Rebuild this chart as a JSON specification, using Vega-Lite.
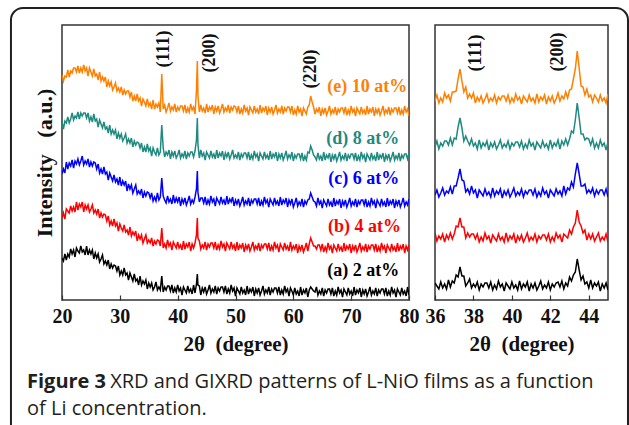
{
  "$schema": "https://vega.github.io/schema/vega-lite/v6.json",
  "background": "white",
  "padding": {"left": 9, "top": 6, "right": 0, "bottom": 0},
  "config": {
    "view": {"stroke": "#333333", "strokeWidth": 1.5},
    "axis": {"grid": false, "domain": false, "labelFont": "Liberation Serif", "labelFontWeight": "bold", "labelFontSize": 20, "labelColor": "#111", "titleFont": "Liberation Serif", "titleFontWeight": "bold", "titleFontSize": 21, "titleColor": "#111", "tickColor": "#333", "tickWidth": 1.2}
  },
  "datasets": {
    "xrd": [
      {"x":20,"a":42,"b":82,"c":126,"d":178,"e":225},{"x":20.25,"a":39,"b":87,"c":131,"d":171,"e":219},{"x":20.5,"a":46,"b":81,"c":127,"d":179,"e":224},{"x":20.75,"a":40,"b":91,"c":138,"d":177,"e":223},
      {"x":21,"a":46,"b":89,"c":131,"d":183,"e":230},{"x":21.25,"a":43,"b":87,"c":137,"d":177,"e":223},{"x":21.5,"a":51,"b":94,"c":134,"d":181,"e":229},{"x":21.75,"a":46,"b":89,"c":140,"d":187,"e":227},
      {"x":22,"a":50,"b":93,"c":132,"d":180,"e":232},{"x":22.25,"a":43,"b":88,"c":139,"d":184,"e":232},{"x":22.5,"a":52,"b":98,"c":136,"d":182,"e":228},{"x":22.75,"a":49,"b":90,"c":141,"d":188,"e":234},
      {"x":23,"a":47,"b":96,"c":135,"d":181,"e":227},{"x":23.25,"a":54,"b":93,"c":139,"d":187,"e":232},{"x":23.5,"a":48,"b":98,"c":144,"d":184,"e":228},{"x":23.75,"a":50,"b":88,"c":135,"d":187,"e":235},
      {"x":24,"a":45,"b":95,"c":139,"d":187,"e":229},{"x":24.25,"a":54,"b":91,"c":136,"d":182,"e":232},{"x":24.5,"a":45,"b":95,"c":141,"d":187,"e":224},{"x":24.75,"a":50,"b":88,"c":133,"d":179,"e":232},
      {"x":25,"a":46,"b":91,"c":138,"d":183,"e":228},{"x":25.25,"a":50,"b":95,"c":134,"d":178,"e":224},{"x":25.5,"a":41,"b":87,"c":138,"d":186,"e":231},{"x":25.75,"a":47,"b":90,"c":137,"d":179,"e":224},
      {"x":26,"a":42,"b":86,"c":131,"d":181,"e":226},{"x":26.25,"a":46,"b":91,"c":136,"d":173,"e":220},{"x":26.5,"a":38,"b":82,"c":127,"d":180,"e":228},{"x":26.75,"a":41,"b":87,"c":131,"d":176,"e":219},
      {"x":27,"a":45,"b":83,"c":126,"d":172,"e":223},{"x":27.25,"a":36,"b":86,"c":133,"d":178,"e":219},{"x":27.5,"a":39,"b":85,"c":126,"d":171,"e":223},{"x":27.75,"a":35,"b":79,"c":128,"d":173,"e":213},
      {"x":28,"a":40,"b":84,"c":120,"d":167,"e":219},{"x":28.25,"a":31,"b":75,"c":127,"d":175,"e":214},{"x":28.5,"a":36,"b":79,"c":123,"d":166,"e":218},{"x":28.75,"a":32,"b":74,"c":119,"d":170,"e":210},
      {"x":29,"a":35,"b":81,"c":125,"d":166,"e":213},{"x":29.25,"a":34,"b":74,"c":118,"d":170,"e":217},{"x":29.5,"a":29,"b":77,"c":121,"d":161,"e":209},{"x":29.75,"a":34,"b":69,"c":115,"d":167,"e":212},
      {"x":30,"a":25,"b":76,"c":123,"d":162,"e":208},{"x":30.25,"a":29,"b":72,"c":114,"d":166,"e":213},{"x":30.5,"a":25,"b":69,"c":119,"d":159,"e":205},{"x":30.75,"a":32,"b":75,"c":115,"d":162,"e":210},
      {"x":31,"a":25,"b":68,"c":119,"d":166,"e":206},{"x":31.25,"a":27,"b":70,"c":109,"d":157,"e":209},{"x":31.5,"a":20,"b":65,"c":116,"d":161,"e":209},{"x":31.75,"a":27,"b":73,"c":111,"d":157,"e":203},
      {"x":32,"a":23,"b":64,"c":115,"d":162,"e":208},{"x":32.25,"a":19,"b":68,"c":107,"d":153,"e":199},{"x":32.5,"a":26,"b":65,"c":111,"d":159,"e":204},{"x":32.75,"a":19,"b":69,"c":115,"d":155,"e":199},
      {"x":33,"a":21,"b":59,"c":106,"d":158,"e":206},{"x":33.25,"a":15,"b":65,"c":109,"d":157,"e":199},{"x":33.5,"a":24,"b":61,"c":106,"d":152,"e":202},{"x":33.75,"a":15,"b":65,"c":111,"d":157,"e":194},
      {"x":34,"a":19,"b":57,"c":102,"d":148,"e":201},{"x":34.25,"a":16,"b":61,"c":108,"d":153,"e":198},{"x":34.5,"a":20,"b":65,"c":104,"d":148,"e":194},{"x":34.75,"a":11,"b":57,"c":108,"d":156,"e":201},
      {"x":35,"a":17,"b":60,"c":107,"d":149,"e":194},{"x":35.25,"a":13,"b":57,"c":102,"d":152,"e":197},{"x":35.5,"a":17,"b":62,"c":107,"d":144,"e":191},{"x":35.75,"a":10,"b":54,"c":99,"d":152,"e":200},
      {"x":36,"a":13,"b":59,"c":103,"d":148,"e":191},{"x":36.25,"a":18,"b":56,"c":99,"d":145,"e":196},{"x":36.5,"a":10,"b":60,"c":107,"d":152,"e":193},{"x":36.75,"a":13,"b":59,"c":100,"d":145,"e":197},
      {"x":37,"a":10,"b":54,"c":103,"d":148,"e":188},{"x":37.25,"a":24,"b":72,"c":122,"d":175,"e":226},{"x":37.5,"a":8,"b":52,"c":104,"d":152,"e":191},{"x":37.75,"a":13,"b":56,"c":100,"d":143,"e":195},
      {"x":38,"a":10,"b":52,"c":97,"d":148,"e":188},{"x":38.25,"a":14,"b":60,"c":104,"d":145,"e":192},{"x":38.5,"a":14,"b":54,"c":98,"d":150,"e":197},{"x":38.75,"a":9,"b":57,"c":101,"d":141,"e":189},
      {"x":39,"a":15,"b":50,"c":96,"d":148,"e":193},{"x":39.25,"a":7,"b":58,"c":105,"d":144,"e":190},{"x":39.5,"a":12,"b":55,"c":97,"d":149,"e":196},{"x":39.75,"a":8,"b":52,"c":102,"d":142,"e":188},
      {"x":40,"a":15,"b":58,"c":98,"d":145,"e":193},{"x":40.25,"a":9,"b":52,"c":103,"d":150,"e":190},{"x":40.5,"a":12,"b":55,"c":94,"d":142,"e":194},{"x":40.75,"a":5,"b":50,"c":101,"d":146,"e":194},
      {"x":41,"a":13,"b":59,"c":97,"d":143,"e":189},{"x":41.25,"a":10,"b":51,"c":102,"d":149,"e":195},{"x":41.5,"a":7,"b":56,"c":95,"d":141,"e":187},{"x":41.75,"a":14,"b":53,"c":99,"d":147,"e":192},
      {"x":42,"a":8,"b":58,"c":104,"d":144,"e":188},{"x":42.25,"a":11,"b":49,"c":96,"d":148,"e":196},{"x":42.5,"a":6,"b":56,"c":100,"d":148,"e":190},{"x":42.75,"a":15,"b":52,"c":97,"d":143,"e":193},
      {"x":43,"a":7,"b":57,"c":103,"d":149,"e":186},{"x":43.25,"a":16,"b":65,"c":111,"d":160,"e":210},{"x":43.4,"a":26,"b":82,"c":129,"d":182,"e":239},{"x":43.5,"a":15,"b":62,"c":108,"d":156,"e":205},{"x":43.75,"a":14,"b":59,"c":98,"d":142,"e":188},
      {"x":44,"a":5,"b":51,"c":102,"d":150,"e":195},{"x":44.25,"a":12,"b":55,"c":102,"d":144,"e":189},{"x":44.5,"a":8,"b":52,"c":97,"d":147,"e":192},{"x":44.75,"a":13,"b":58,"c":103,"d":140,"e":187},
      {"x":45,"a":6,"b":50,"c":95,"d":148,"e":196},{"x":45.25,"a":10,"b":56,"c":100,"d":145,"e":188},{"x":45.5,"a":15,"b":53,"c":96,"d":142,"e":193},{"x":45.75,"a":7,"b":57,"c":104,"d":149,"e":190},
      {"x":46,"a":11,"b":57,"c":98,"d":143,"e":195},{"x":46.25,"a":8,"b":52,"c":101,"d":146,"e":186},{"x":46.5,"a":14,"b":58,"c":94,"d":141,"e":193},{"x":46.75,"a":6,"b":50,"c":102,"d":150,"e":189},
      {"x":47,"a":12,"b":55,"c":99,"d":142,"e":194},{"x":47.25,"a":9,"b":51,"c":96,"d":147,"e":187},{"x":47.5,"a":13,"b":59,"c":103,"d":144,"e":191},{"x":47.75,"a":13,"b":53,"c":97,"d":149,"e":196},
      {"x":48,"a":8,"b":56,"c":100,"d":140,"e":188},{"x":48.25,"a":14,"b":49,"c":95,"d":147,"e":192},{"x":48.5,"a":6,"b":57,"c":104,"d":143,"e":189},{"x":48.75,"a":11,"b":54,"c":96,"d":148,"e":195},
      {"x":49,"a":7,"b":51,"c":101,"d":141,"e":187},{"x":49.25,"a":15,"b":58,"c":98,"d":145,"e":193},{"x":49.5,"a":9,"b":52,"c":103,"d":150,"e":190},{"x":49.75,"a":12,"b":55,"c":94,"d":142,"e":194},
      {"x":50,"a":4,"b":49,"c":100,"d":145,"e":193},{"x":50.25,"a":12,"b":58,"c":96,"d":142,"e":188},{"x":50.5,"a":9,"b":50,"c":101,"d":148,"e":194},{"x":50.75,"a":6,"b":55,"c":94,"d":140,"e":186},
      {"x":51,"a":13,"b":52,"c":98,"d":146,"e":191},{"x":51.25,"a":7,"b":57,"c":103,"d":143,"e":187},{"x":51.5,"a":10,"b":48,"c":95,"d":147,"e":195},{"x":51.75,"a":5,"b":55,"c":99,"d":147,"e":189},
      {"x":52,"a":14,"b":51,"c":96,"d":142,"e":192},{"x":52.25,"a":6,"b":56,"c":102,"d":148,"e":185},{"x":52.5,"a":11,"b":49,"c":94,"d":140,"e":193},{"x":52.75,"a":8,"b":53,"c":100,"d":145,"e":190},
      {"x":53,"a":13,"b":58,"c":97,"d":141,"e":187},{"x":53.25,"a":4,"b":50,"c":101,"d":149,"e":194},{"x":53.5,"a":11,"b":54,"c":101,"d":143,"e":188},{"x":53.75,"a":7,"b":51,"c":96,"d":146,"e":191},
      {"x":54,"a":12,"b":57,"c":102,"d":139,"e":186},{"x":54.25,"a":5,"b":49,"c":94,"d":147,"e":195},{"x":54.5,"a":9,"b":55,"c":99,"d":144,"e":187},{"x":54.75,"a":14,"b":52,"c":95,"d":141,"e":192},
      {"x":55,"a":6,"b":56,"c":103,"d":148,"e":189},{"x":55.25,"a":10,"b":56,"c":97,"d":142,"e":194},{"x":55.5,"a":7,"b":51,"c":100,"d":145,"e":185},{"x":55.75,"a":13,"b":57,"c":93,"d":140,"e":192},
      {"x":56,"a":5,"b":49,"c":101,"d":149,"e":188},{"x":56.25,"a":11,"b":54,"c":98,"d":141,"e":193},{"x":56.5,"a":8,"b":50,"c":95,"d":146,"e":186},{"x":56.75,"a":12,"b":58,"c":102,"d":143,"e":190},
      {"x":57,"a":12,"b":52,"c":96,"d":148,"e":195},{"x":57.25,"a":7,"b":55,"c":99,"d":139,"e":187},{"x":57.5,"a":13,"b":48,"c":94,"d":146,"e":191},{"x":57.75,"a":5,"b":56,"c":103,"d":142,"e":188},
      {"x":58,"a":10,"b":53,"c":95,"d":147,"e":194},{"x":58.25,"a":6,"b":50,"c":100,"d":140,"e":186},{"x":58.5,"a":14,"b":57,"c":97,"d":144,"e":192},{"x":58.75,"a":8,"b":51,"c":102,"d":149,"e":189},
      {"x":59,"a":11,"b":54,"c":93,"d":141,"e":193},{"x":59.25,"a":4,"b":49,"c":100,"d":145,"e":193},{"x":59.5,"a":12,"b":58,"c":96,"d":142,"e":188},{"x":59.75,"a":9,"b":50,"c":101,"d":148,"e":194},
      {"x":60,"a":5,"b":54,"c":93,"d":139,"e":185},{"x":60.25,"a":12,"b":51,"c":97,"d":145,"e":190},{"x":60.5,"a":6,"b":56,"c":102,"d":142,"e":186},{"x":60.75,"a":9,"b":47,"c":94,"d":146,"e":194},
      {"x":61,"a":4,"b":54,"c":98,"d":146,"e":188},{"x":61.25,"a":13,"b":50,"c":95,"d":141,"e":191},{"x":61.5,"a":5,"b":55,"c":101,"d":147,"e":184},{"x":61.75,"a":10,"b":48,"c":93,"d":139,"e":192},
      {"x":62,"a":7,"b":52,"c":99,"d":144,"e":189},{"x":62.25,"a":12,"b":57,"c":96,"d":140,"e":186},{"x":62.5,"a":3,"b":49,"c":100,"d":148,"e":193},{"x":62.75,"a":10,"b":56,"c":101,"d":147,"e":195},
      {"x":63,"a":13,"b":62,"c":107,"d":154,"e":204},{"x":63.25,"a":11,"b":58,"c":103,"d":150,"e":198},{"x":63.5,"a":9,"b":54,"c":99,"d":145,"e":193},{"x":63.75,"a":8,"b":54,"c":98,"d":143,"e":186},
      {"x":64,"a":13,"b":51,"c":94,"d":140,"e":191},{"x":64.25,"a":5,"b":55,"c":102,"d":147,"e":188},{"x":64.5,"a":9,"b":55,"c":96,"d":141,"e":193},{"x":64.75,"a":6,"b":50,"c":99,"d":144,"e":184},
      {"x":65,"a":12,"b":56,"c":92,"d":139,"e":191},{"x":65.25,"a":4,"b":48,"c":100,"d":148,"e":187},{"x":65.5,"a":10,"b":53,"c":97,"d":140,"e":192},{"x":65.75,"a":7,"b":49,"c":94,"d":145,"e":185},
      {"x":66,"a":11,"b":57,"c":101,"d":142,"e":189},{"x":66.25,"a":11,"b":51,"c":95,"d":147,"e":194},{"x":66.5,"a":6,"b":54,"c":98,"d":138,"e":186},{"x":66.75,"a":12,"b":47,"c":93,"d":145,"e":190},
      {"x":67,"a":4,"b":55,"c":102,"d":141,"e":187},{"x":67.25,"a":9,"b":52,"c":94,"d":146,"e":193},{"x":67.5,"a":5,"b":49,"c":99,"d":139,"e":185},{"x":67.75,"a":13,"b":56,"c":96,"d":143,"e":191},
      {"x":68,"a":7,"b":50,"c":101,"d":148,"e":188},{"x":68.25,"a":10,"b":53,"c":92,"d":140,"e":192},{"x":68.5,"a":3,"b":48,"c":99,"d":144,"e":192},{"x":68.75,"a":11,"b":57,"c":95,"d":141,"e":187},
      {"x":69,"a":8,"b":49,"c":100,"d":147,"e":193},{"x":69.25,"a":5,"b":54,"c":93,"d":139,"e":185},{"x":69.5,"a":12,"b":51,"c":97,"d":145,"e":190},{"x":69.75,"a":6,"b":56,"c":102,"d":142,"e":186},
      {"x":70,"a":9,"b":47,"c":94,"d":146,"e":194},{"x":70.25,"a":4,"b":54,"c":98,"d":146,"e":188},{"x":70.5,"a":13,"b":50,"c":95,"d":141,"e":191},{"x":70.75,"a":5,"b":55,"c":101,"d":147,"e":184},
      {"x":71,"a":10,"b":48,"c":93,"d":139,"e":192},{"x":71.25,"a":7,"b":52,"c":99,"d":144,"e":189},{"x":71.5,"a":12,"b":57,"c":96,"d":140,"e":186},{"x":71.75,"a":3,"b":49,"c":100,"d":148,"e":193},
      {"x":72,"a":10,"b":53,"c":100,"d":142,"e":187},{"x":72.25,"a":6,"b":50,"c":95,"d":145,"e":190},{"x":72.5,"a":11,"b":56,"c":101,"d":138,"e":185},{"x":72.75,"a":4,"b":48,"c":93,"d":146,"e":194},
      {"x":73,"a":8,"b":54,"c":98,"d":143,"e":186},{"x":73.25,"a":13,"b":51,"c":94,"d":140,"e":191},{"x":73.5,"a":5,"b":55,"c":102,"d":147,"e":188},{"x":73.75,"a":9,"b":55,"c":96,"d":141,"e":193},
      {"x":74,"a":6,"b":50,"c":99,"d":144,"e":184},{"x":74.25,"a":12,"b":56,"c":92,"d":139,"e":191},{"x":74.5,"a":4,"b":48,"c":100,"d":148,"e":187},{"x":74.75,"a":10,"b":53,"c":97,"d":140,"e":192},
      {"x":75,"a":7,"b":49,"c":94,"d":145,"e":185},{"x":75.25,"a":11,"b":57,"c":101,"d":142,"e":189},{"x":75.5,"a":11,"b":51,"c":95,"d":147,"e":194},{"x":75.75,"a":6,"b":54,"c":98,"d":138,"e":186},
      {"x":76,"a":12,"b":47,"c":93,"d":145,"e":190},{"x":76.25,"a":4,"b":55,"c":102,"d":141,"e":187},{"x":76.5,"a":9,"b":52,"c":94,"d":146,"e":193},{"x":76.75,"a":5,"b":49,"c":99,"d":139,"e":185},
      {"x":77,"a":13,"b":56,"c":96,"d":143,"e":191},{"x":77.25,"a":7,"b":50,"c":101,"d":148,"e":188},{"x":77.5,"a":10,"b":53,"c":92,"d":140,"e":192},{"x":77.75,"a":3,"b":48,"c":99,"d":144,"e":192},
      {"x":78,"a":11,"b":57,"c":95,"d":141,"e":187},{"x":78.25,"a":8,"b":49,"c":100,"d":147,"e":193},{"x":78.5,"a":5,"b":54,"c":93,"d":139,"e":185},{"x":78.75,"a":12,"b":51,"c":97,"d":145,"e":190},
      {"x":79,"a":6,"b":56,"c":102,"d":142,"e":186},{"x":79.25,"a":9,"b":47,"c":94,"d":146,"e":194},{"x":79.5,"a":4,"b":54,"c":98,"d":146,"e":188},{"x":79.75,"a":13,"b":50,"c":95,"d":141,"e":191},
      {"x":80,"a":5,"b":55,"c":101,"d":147,"e":184}
    ],
    "gix": [
      {"x":36.0,"a":17,"b":67,"c":105,"d":153,"e":199},{"x":36.1,"a":14,"b":59,"c":110,"d":159,"e":205},{"x":36.2,"a":11,"b":64,"c":103,"d":151,"e":197},{"x":36.3,"a":18,"b":61,"c":107,"d":157,"e":202},
      {"x":36.4,"a":12,"b":66,"c":112,"d":154,"e":198},{"x":36.5,"a":16,"b":58,"c":105,"d":159,"e":207},{"x":36.6,"a":11,"b":65,"c":109,"d":159,"e":202},{"x":36.7,"a":20,"b":61,"c":107,"d":155,"e":205},
      {"x":36.8,"a":13,"b":67,"c":113,"d":162,"e":199},{"x":36.9,"a":19,"b":61,"c":106,"d":155,"e":208},{"x":37.0,"a":17,"b":66,"c":114,"d":162,"e":208},{"x":37.1,"a":25,"b":74,"c":114,"d":161,"e":209},
      {"x":37.2,"a":23,"b":73,"c":122,"d":173,"e":221},{"x":37.3,"a":33,"b":82,"c":131,"d":182,"e":231},{"x":37.4,"a":24,"b":73,"c":120,"d":172,"e":219},{"x":37.5,"a":24,"b":73,"c":119,"d":159,"e":208},
      {"x":37.6,"a":14,"b":62,"c":108,"d":164,"e":213},{"x":37.7,"a":17,"b":67,"c":111,"d":159,"e":202},{"x":37.8,"a":21,"b":63,"c":106,"d":155,"e":206},{"x":37.9,"a":12,"b":66,"c":114,"d":161,"e":202},
      {"x":38.0,"a":16,"b":66,"c":107,"d":154,"e":207},{"x":38.1,"a":13,"b":61,"c":110,"d":157,"e":197},{"x":38.2,"a":18,"b":66,"c":102,"d":151,"e":203},{"x":38.3,"a":10,"b":58,"c":110,"d":160,"e":199},
      {"x":38.4,"a":16,"b":63,"c":107,"d":152,"e":204},{"x":38.5,"a":13,"b":59,"c":104,"d":157,"e":197},{"x":38.6,"a":17,"b":67,"c":111,"d":154,"e":201},{"x":38.7,"a":17,"b":61,"c":105,"d":159,"e":206},
      {"x":38.8,"a":12,"b":64,"c":108,"d":150,"e":198},{"x":38.9,"a":18,"b":57,"c":103,"d":157,"e":202},{"x":39.0,"a":10,"b":65,"c":112,"d":153,"e":199},{"x":39.1,"a":15,"b":62,"c":104,"d":158,"e":205},
      {"x":39.2,"a":11,"b":59,"c":109,"d":151,"e":197},{"x":39.3,"a":19,"b":66,"c":106,"d":155,"e":203},{"x":39.4,"a":13,"b":60,"c":111,"d":160,"e":200},{"x":39.5,"a":16,"b":63,"c":102,"d":152,"e":204},
      {"x":39.6,"a":9,"b":58,"c":109,"d":156,"e":204},{"x":39.7,"a":17,"b":67,"c":105,"d":153,"e":199},{"x":39.8,"a":14,"b":59,"c":110,"d":159,"e":205},{"x":39.9,"a":11,"b":64,"c":103,"d":151,"e":197},
      {"x":40.0,"a":18,"b":61,"c":107,"d":157,"e":202},{"x":40.1,"a":12,"b":66,"c":112,"d":154,"e":198},{"x":40.2,"a":15,"b":57,"c":104,"d":158,"e":206},{"x":40.3,"a":10,"b":64,"c":108,"d":158,"e":200},
      {"x":40.4,"a":19,"b":60,"c":105,"d":153,"e":203},{"x":40.5,"a":11,"b":65,"c":111,"d":159,"e":196},{"x":40.6,"a":16,"b":58,"c":103,"d":151,"e":204},{"x":40.7,"a":13,"b":62,"c":109,"d":156,"e":201},
      {"x":40.8,"a":18,"b":67,"c":106,"d":152,"e":198},{"x":40.9,"a":9,"b":59,"c":110,"d":160,"e":205},{"x":41.0,"a":16,"b":63,"c":110,"d":154,"e":199},{"x":41.1,"a":12,"b":60,"c":105,"d":157,"e":202},
      {"x":41.2,"a":17,"b":66,"c":111,"d":150,"e":197},{"x":41.3,"a":10,"b":58,"c":103,"d":158,"e":206},{"x":41.4,"a":14,"b":64,"c":108,"d":155,"e":198},{"x":41.5,"a":19,"b":61,"c":104,"d":152,"e":203},
      {"x":41.6,"a":11,"b":65,"c":112,"d":159,"e":200},{"x":41.7,"a":15,"b":65,"c":106,"d":153,"e":205},{"x":41.8,"a":12,"b":60,"c":109,"d":156,"e":196},{"x":41.9,"a":18,"b":66,"c":102,"d":151,"e":203},
      {"x":42.0,"a":10,"b":58,"c":110,"d":160,"e":199},{"x":42.1,"a":16,"b":63,"c":107,"d":152,"e":204},{"x":42.2,"a":13,"b":59,"c":104,"d":157,"e":197},{"x":42.3,"a":17,"b":67,"c":111,"d":154,"e":201},
      {"x":42.4,"a":18,"b":62,"c":106,"d":160,"e":207},{"x":42.5,"a":13,"b":65,"c":109,"d":151,"e":199},{"x":42.6,"a":19,"b":58,"c":104,"d":159,"e":204},{"x":42.7,"a":11,"b":66,"c":114,"d":155,"e":201},
      {"x":42.8,"a":17,"b":64,"c":106,"d":161,"e":208},{"x":42.9,"a":14,"b":62,"c":112,"d":155,"e":202},{"x":43.0,"a":23,"b":70,"c":110,"d":161,"e":210},{"x":43.1,"a":19,"b":66,"c":118,"d":169,"e":211},
      {"x":43.2,"a":25,"b":73,"c":113,"d":167,"e":221},{"x":43.3,"a":28,"b":77,"c":126,"d":180,"e":231},{"x":43.4,"a":41,"b":90,"c":137,"d":197,"e":249},{"x":43.5,"a":30,"b":78,"c":126,"d":182,"e":232},
      {"x":43.6,"a":20,"b":74,"c":114,"d":166,"e":214},{"x":43.7,"a":24,"b":67,"c":114,"d":166,"e":213},{"x":43.8,"a":16,"b":70,"c":116,"d":160,"e":205},{"x":43.9,"a":18,"b":60,"c":107,"d":162,"e":211},
      {"x":44.0,"a":12,"b":66,"c":110,"d":161,"e":203},{"x":44.1,"a":20,"b":61,"c":107,"d":155,"e":205},{"x":44.2,"a":12,"b":66,"c":112,"d":161,"e":198},{"x":44.3,"a":17,"b":59,"c":104,"d":152,"e":205},
      {"x":44.4,"a":14,"b":63,"c":110,"d":157,"e":202},{"x":44.5,"a":18,"b":67,"c":106,"d":152,"e":198},{"x":44.6,"a":9,"b":59,"c":110,"d":160,"e":205},{"x":44.7,"a":16,"b":63,"c":110,"d":154,"e":199},
      {"x":44.8,"a":12,"b":60,"c":105,"d":157,"e":202},{"x":44.9,"a":17,"b":66,"c":111,"d":150,"e":197},{"x":45.0,"a":10,"b":58,"c":103,"d":158,"e":206}
    ],
    "lab": [
      {"s":"e","t":"(e) 10 at%","x":79.7,"y":213},
      {"s":"d","t":"(d) 8 at%","x":78.3,"y":161},
      {"s":"c","t":"(c) 6 at%","x":78.3,"y":121},
      {"s":"b","t":"(b) 4 at%","x":78.6,"y":73},
      {"s":"a","t":"(a) 2 at%","x":78.3,"y":29}
    ],
    "pkL": [
      {"t":"(111)","x":37.65,"y":251},
      {"t":"(200)","x":45.6,"y":247},
      {"t":"(220)","x":63.1,"y":231}
    ],
    "pkR": [
      {"t":"(111)","x":38.14,"y":247},
      {"t":"(200)","x":42.4,"y":248}
    ],
    "border": [{"x1":13.94,"x2":46.04,"y1":292,"y2":-141}]
  },
  "hconcat": [
    {
      "width": 347,
      "height": 275,
      "title": {
        "text": "Figure 3",
        "subtitle": ["\u200b\u00a0\u00a0\u00a0\u00a0\u00a0\u00a0\u00a0\u00a0\u00a0\u00a0\u00a0\u00a0\u00a0\u00a0\u00a0\u00a0XRD and GIXRD patterns of L-NiO films as a function", "of Li concentration."],
        "orient": "bottom",
        "anchor": "start",
        "frame": "group",
        "dx": -35,
        "offset": 18,
        "font": "Open Sans",
        "fontSize": 20,
        "fontWeight": "bold",
        "color": "#231f20",
        "subtitleFont": "Open Sans",
        "subtitleFontSize": 20,
        "subtitleFontWeight": "normal",
        "subtitleColor": "#231f20",
        "subtitleLineHeight": 27,
        "subtitlePadding": -20
      },
      "layer": [
        {
          "data": {"name": "xrd"},
          "transform": [{"fold": ["a", "b", "c", "d", "e"], "as": ["s", "v"]}],
          "mark": {"type": "line", "strokeWidth": 1.5, "clip": true},
          "encoding": {
            "x": {
              "field": "x", "type": "quantitative",
              "scale": {"domain": [20, 80], "nice": false, "zero": false},
              "axis": {"values": [20,25,30,35,40,45,50,55,60,65,70,75,80], "labelExpr": "datum.value % 10 === 0 ? datum.label : ''", "tickSize": -5, "labelPadding": 11, "labelFlush": false, "labelOverlap": false, "title": "2θ\u00a0 (degree)", "titlePadding": 7}
            },
            "y": {
              "field": "v", "type": "quantitative",
              "scale": {"domain": [0, 275], "nice": false, "zero": false},
              "axis": {"title": "Intensity\u00a0\u00a0 (a.u.)", "labels": false, "ticks": false, "titleFontSize": 22, "titlePadding": 6}
            },
            "color": {
              "field": "s", "type": "nominal",
              "scale": {"domain": ["a", "b", "c", "d", "e"], "range": ["#000000", "#ff0000", "#0000ff", "#1f8a80", "#ff8000"]},
              "legend": null
            }
          }
        },
        {
          "data": {"name": "lab"},
          "mark": {"type": "text", "align": "right", "baseline": "middle", "font": "Liberation Serif", "fontWeight": "bold", "fontSize": 18},
          "encoding": {
            "x": {"field": "x", "type": "quantitative"},
            "y": {"field": "y", "type": "quantitative"},
            "text": {"field": "t"},
            "color": {"field": "s", "type": "nominal", "legend": null}
          }
        },
        {
          "data": {"name": "pkL"},
          "mark": {"type": "text", "align": "center", "baseline": "middle", "angle": 270, "font": "Liberation Serif", "fontWeight": "bold", "fontSize": 18, "color": "#111"},
          "encoding": {
            "x": {"field": "x", "type": "quantitative"},
            "y": {"field": "y", "type": "quantitative"},
            "text": {"field": "t"}
          }
        }
      ]
    },
    {
      "width": 173,
      "height": 275,
      "layer": [
        {
          "data": {"name": "gix"},
          "transform": [{"fold": ["a", "b", "c", "d", "e"], "as": ["s", "v"]}],
          "mark": {"type": "line", "strokeWidth": 1.5, "clip": true},
          "encoding": {
            "x": {
              "field": "x", "type": "quantitative",
              "scale": {"domain": [36, 45], "nice": false, "zero": false},
              "axis": {"values": [36,37,38,39,40,41,42,43,44,45], "labelExpr": "datum.value % 2 === 0 ? datum.label : ''", "tickSize": -5, "labelPadding": 11, "labelFlush": false, "labelOverlap": false, "title": "2θ\u00a0 (degree)", "titlePadding": 7}
            },
            "y": {
              "field": "v", "type": "quantitative",
              "scale": {"domain": [0, 275], "nice": false, "zero": false},
              "axis": null
            },
            "color": {
              "field": "s", "type": "nominal",
              "scale": {"domain": ["a", "b", "c", "d", "e"], "range": ["#000000", "#ff0000", "#0000ff", "#1f8a80", "#ff8000"]},
              "legend": null
            }
          }
        },
        {
          "data": {"name": "pkR"},
          "mark": {"type": "text", "align": "center", "baseline": "middle", "angle": 270, "font": "Liberation Serif", "fontWeight": "bold", "fontSize": 18, "color": "#111"},
          "encoding": {
            "x": {"field": "x", "type": "quantitative"},
            "y": {"field": "y", "type": "quantitative", "axis": null},
            "text": {"field": "t"}
          }
        },
        {
          "data": {"name": "border"},
          "mark": {"type": "rect", "fill": "transparent", "stroke": "#231f20", "strokeWidth": 2, "cornerRadius": 12, "clip": false},
          "encoding": {
            "x": {"field": "x1", "type": "quantitative"},
            "x2": {"field": "x2"},
            "y": {"field": "y1", "type": "quantitative", "axis": null},
            "y2": {"field": "y2"}
          }
        }
      ]
    }
  ],
  "spacing": 26,
  "bounds": "flush"
}
